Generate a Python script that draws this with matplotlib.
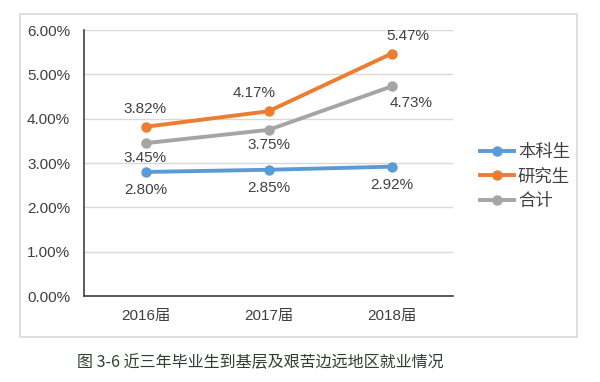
import matplotlib.pyplot as plt
from matplotlib.patches import Rectangle

plt.rcParams['font.family'] = ['Liberation Sans', 'Noto Sans CJK SC', 'DejaVu Sans']

years = ['2016届', '2017届', '2018届']
undergrad = [2.80, 2.85, 2.92]
graduate = [3.82, 4.17, 5.47]
total = [3.45, 3.75, 4.73]
series_names = ['本科生', '研究生', '合计']
yticks = [0, 1, 2, 3, 4, 5, 6]

colors = ['#5B9BD5', '#ED7D31', '#A5A5A5']

fig = plt.figure(figsize=(6, 3.82), dpi=100)
ax = fig.add_axes([0.14, 0.225, 0.615, 0.696])

x = list(range(len(years)))
for vals, name, c in zip([undergrad, graduate, total], series_names, colors):
    ax.plot(x, vals, color=c, lw=2.8, marker='o', ms=6.5, label=name)

# data labels: (dx, dy) in points
offsets = {
    0: [(0, -13), (0, -13), (0, -13)],
    1: [(0, 13), (-10, 13), (12, 13)],
    2: [(0, -11), (0, -11), (14, -12)],
}
for si, vals in enumerate([undergrad, graduate, total]):
    for i, v in enumerate(vals):
        dx, dy = offsets[si][i]
        ax.annotate(f'{v:.2f}%', (i, v), xytext=(dx, dy), textcoords='offset points',
                    ha='center', va='center', fontsize=11, color='#404040')

ax.set_xlim(-0.5, 2.5)
ax.set_ylim(0, 6)
ax.set_yticks(yticks)
ax.set_yticklabels([f'{t:.2f}%' for t in yticks])
ax.set_xticks(x)
ax.set_xticklabels(years)
ax.tick_params(length=0, labelsize=11, colors='#404040')
ax.tick_params(axis='y', pad=10)
ax.tick_params(axis='x', pad=9)
ax.grid(axis='y', color='#D9D9D9', lw=1)
ax.set_axisbelow(True)
for s in ['top', 'right']:
    ax.spines[s].set_visible(False)
for s in ['left', 'bottom']:
    ax.spines[s].set_color('#404040')
    ax.spines[s].set_linewidth(1.2)

leg = ax.legend(loc='center left', bbox_to_anchor=(1.03, 0.45), frameon=False,
                fontsize=12.5, handlelength=2.0, labelspacing=0.5, handletextpad=0.2)
for t in leg.get_texts():
    t.set_color('#404040')

fig.patches.append(Rectangle((20 / 600, 1 - 337 / 382), 557 / 600, 323 / 382,
                             transform=fig.transFigure, fill=False,
                             edgecolor='#D9D9D9', lw=1.2))

fig.text(260 / 600, 1 - 363 / 382, '图 3-6 近三年毕业生到基层及艰苦边远地区就业情况',
         ha='center', va='center', fontsize=11.5, color='#2F3F35',
         family=['Noto Sans CJK SC', 'DejaVu Sans'])

fig.savefig('out.png', dpi=100)
